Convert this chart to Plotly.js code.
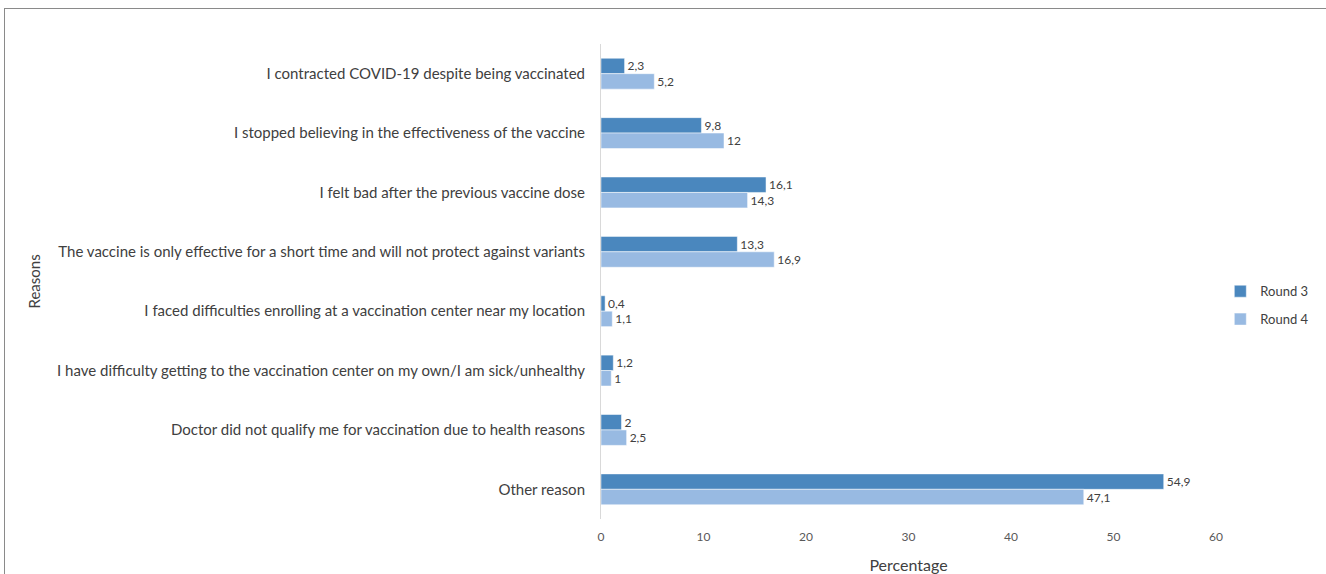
<!DOCTYPE html>
<html>
<head>
<meta charset="utf-8">
<script src="https://cdn.plot.ly/plotly-3.0.1.min.js"></script>
<style>
html,body{margin:0;padding:0;background:#fff;overflow:hidden;}
#chart{width:1326px;height:574px;position:absolute;left:0;top:0;}
#frame{position:absolute;left:4px;top:8px;width:1340px;height:600px;border:1.5px solid #8a8a8a;pointer-events:none;}
</style>
</head>
<body>
<div id="chart"></div>
<div id="frame"></div>
<script>
const categories = [
  "I contracted COVID-19 despite being vaccinated",
  "I stopped believing in the effectiveness of the vaccine",
  "I felt bad after the previous vaccine dose",
  "The vaccine is only effective for a short time and will not protect against variants",
  "I faced difficulties enrolling at a vaccination center near my location",
  "I have difficulty getting to the vaccination center on my own/I am sick/unhealthy",
  "Doctor did not qualify me for vaccination due to health reasons",
  "Other reason"
];
const round3 = [2.3, 9.8, 16.1, 13.3, 0.4, 1.2, 2, 54.9];
const round4 = [5.2, 12, 14.3, 16.9, 1.1, 1, 2.5, 47.1];
const seriesNames = ["Round 3", "Round 4"];
const xTicks = [0, 10, 20, 30, 40, 50, 60];

const fmt = v => String(v).replace('.', ',');
const FONT = "Lato, 'Open Sans', sans-serif";

const mk = (vals, name, color, grp) => ({
  type: 'bar', orientation: 'h', y: categories, x: vals, name: name,
  legendgroup: grp,
  marker: {color: color, line: {color: '#ffffff', width: 0.5}},
  text: vals.map(fmt), textposition: 'outside', cliponaxis: false,
  textfont: {family: FONT, size: 12, color: '#404040'},
  hoverinfo: 'x+y'
});

const data = [
  mk(round3, seriesNames[0], '#4a87be', 'a'),
  mk(round4, seriesNames[1], '#98bae2', 'b')
];

const layout = {
  width: 1326, height: 574,
  margin: {l: 601, r: 110, t: 44, b: 55, autoexpand: false},
  paper_bgcolor: '#ffffff', plot_bgcolor: '#ffffff',
  font: {family: FONT, color: '#404040'},
  barmode: 'group', bargap: 0.48, bargroupgap: 0,
  showlegend: true,
  legend: {x: 1.007, y: 0.45, xanchor: 'left', yanchor: 'middle',
           traceorder: 'grouped', tracegroupgap: 8, itemwidth: 30,
           font: {family: FONT, size: 13, color: '#404040'}},
  xaxis: {range: [0, 60], tickvals: xTicks, ticktext: xTicks.map(String),
          showgrid: false, zeroline: false, showline: false, ticks: '',
          ticklabelstandoff: 9,
          tickfont: {family: FONT, size: 12, color: '#595959'},
          title: {text: 'Percentage', standoff: 29, font: {family: FONT, size: 16, color: '#404040'}},
          automargin: false, fixedrange: true},
  yaxis: {autorange: 'reversed', type: 'category', showgrid: false, zeroline: false,
          showline: true, linecolor: '#d9d9d9', linewidth: 1, ticks: '',
          ticklabelstandoff: 12,
          tickfont: {family: FONT, size: 15, color: '#404040'},
          automargin: false, fixedrange: true},
  annotations: [{text: 'Reasons', xref: 'paper', yref: 'paper', xanchor: 'center', yanchor: 'middle',
                 x: (33 - 601) / 615, y: 0.5, textangle: -90, showarrow: false,
                 font: {family: FONT, size: 15, color: '#404040'}}]
};

Plotly.newPlot('chart', data, layout, {displayModeBar: false, staticPlot: true});
</script>
</body>
</html>
